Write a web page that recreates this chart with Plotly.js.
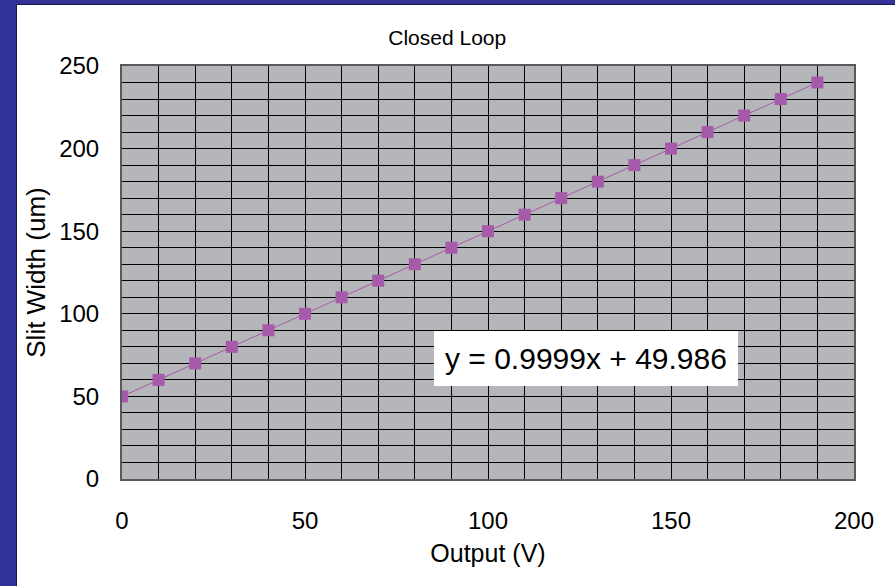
<!DOCTYPE html>
<html>
<head>
<meta charset="utf-8">
<script src="https://cdn.plot.ly/plotly-3.0.1.min.js"></script>
<style>
  html, body { margin: 0; padding: 0; background: #333399; width: 895px; height: 586px; overflow: hidden; }
  #chart { position: absolute; left: 16px; top: 4px; width: 878px; height: 581px; background: #fff; border-left: 1px solid #1a1a40; border-top: 1px solid #1a1a40; }
</style>
</head>
<body>
<div id="chart"></div>
<script>
const outputV = [0, 10, 20, 30, 40, 50, 60, 70, 80, 90, 100, 110, 120, 130, 140, 150, 160, 170, 180, 190];
const slitWidth = [50, 60, 70, 80, 90, 100, 110, 120, 130, 140, 150, 160, 170, 180, 190, 200, 210, 220, 230, 240];
const xTicks = [0, 50, 100, 150, 200];
const yTicks = [0, 50, 100, 150, 200, 250];
const fitLabel = "y = 0.9999x + 49.986";

const fontFam = "Liberation Sans, Arial, sans-serif";
const purple = "#A65AAA";

const trace = {
  x: outputV, y: slitWidth, type: "scatter", mode: "lines+markers",
  line: { color: purple, width: 1 },
  marker: { symbol: "square", size: 12, color: purple, line: { width: 0 } },
  showlegend: false, hoverinfo: "x+y"
};

const layout = {
  width: 878, height: 581,
  margin: { l: 105, r: 41, t: 61, b: 107 },
  paper_bgcolor: "#ffffff",
  plot_bgcolor: "#B5B6B9",
  font: { family: fontFam, color: "#000" },
  title: { text: "Closed Loop", font: { size: 21, family: fontFam }, x: 0.49, xanchor: "center", xref: "container", y: 1 - 33/581, yanchor: "middle", yref: "container" },
  xaxis: {
    range: [0, 200], tickvals: xTicks, ticktext: xTicks.map(String),
    showgrid: true, gridcolor: "#000", gridwidth: 1,
    minor: { dtick: 10, tick0: 0, showgrid: true, gridcolor: "#000", gridwidth: 1, ticks: "" },
    showline: true, linecolor: "#5a5a5a", linewidth: 2, mirror: true,
    ticks: "", ticklabelstandoff: 19, zeroline: false,
    tickfont: { size: 24, family: fontFam },
    title: { text: "Output (V)", font: { size: 25, family: fontFam }, standoff: 12 },
    fixedrange: true
  },
  yaxis: {
    range: [0, 250], tickvals: yTicks, ticktext: yTicks.map(String),
    showgrid: true, gridcolor: "#000", gridwidth: 1,
    minor: { dtick: 10, tick0: 0, showgrid: true, gridcolor: "#000", gridwidth: 1, ticks: "" },
    showline: true, linecolor: "#5a5a5a", linewidth: 2, mirror: true,
    ticks: "", ticklabelstandoff: 16, zeroline: false,
    tickfont: { size: 24, family: fontFam },
    title: { text: "Slit Width (um)", font: { size: 26, family: fontFam }, standoff: 6 },
    fixedrange: true
  },
  annotations: [{
    x: 126.8, y: 73.2, xref: "x", yref: "y", text: fitLabel, showarrow: false,
    font: { size: 30, family: fontFam, color: "#000" },
    bgcolor: "#ffffff", borderpad: 11, borderwidth: 0,
    xanchor: "center", yanchor: "middle"
  }]
};

Plotly.newPlot("chart", [trace], layout, { displayModeBar: false, staticPlot: true });
</script>
</body>
</html>
